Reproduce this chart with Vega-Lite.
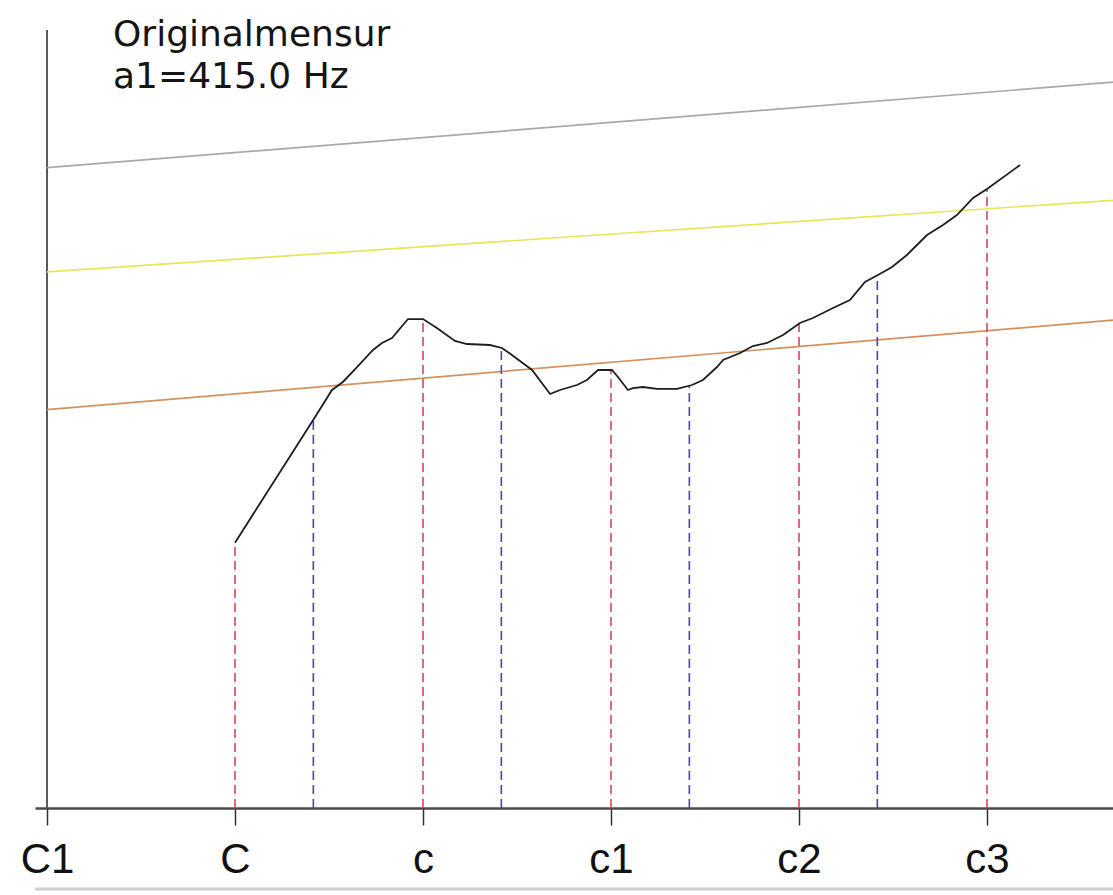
{
  "$schema": "https://vega.github.io/schema/vega-lite/v6.json",
  "autosize": {"type": "none"},
  "width": 1078,
  "height": 778,
  "padding": {"left": 35, "top": 30, "right": 0, "bottom": 87},
  "background": "white",
  "config": {"view": {"stroke": null}},
  "title": {
    "text": ["Originalmensur", "a1=415.0 Hz"],
    "anchor": "start",
    "frame": "group",
    "orient": "top",
    "dx": 78,
    "offset": -70,
    "font": "DejaVu Sans",
    "fontSize": 36,
    "fontWeight": "normal",
    "lineHeight": 42,
    "color": "#151515"
  },
  "datasets": {
    "curve": [
      {"x": 1.0, "y": 34.1},
      {"x": 1.426, "y": 50.26},
      {"x": 1.516, "y": 53.73},
      {"x": 1.574, "y": 54.76},
      {"x": 1.649, "y": 56.68},
      {"x": 1.734, "y": 58.87},
      {"x": 1.782, "y": 59.77},
      {"x": 1.835, "y": 60.41},
      {"x": 1.92, "y": 62.85},
      {"x": 2.0, "y": 62.85},
      {"x": 2.074, "y": 61.7},
      {"x": 2.17, "y": 60.03},
      {"x": 2.234, "y": 59.64},
      {"x": 2.356, "y": 59.51},
      {"x": 2.42, "y": 59.13},
      {"x": 2.473, "y": 58.23},
      {"x": 2.58, "y": 56.3},
      {"x": 2.676, "y": 53.21},
      {"x": 2.729, "y": 53.73},
      {"x": 2.819, "y": 54.37},
      {"x": 2.872, "y": 55.01},
      {"x": 2.931, "y": 56.3},
      {"x": 3.005, "y": 56.3},
      {"x": 3.037, "y": 55.4},
      {"x": 3.09, "y": 53.73},
      {"x": 3.117, "y": 53.98},
      {"x": 3.17, "y": 54.11},
      {"x": 3.245, "y": 53.86},
      {"x": 3.351, "y": 53.86},
      {"x": 3.431, "y": 54.37},
      {"x": 3.489, "y": 55.01},
      {"x": 3.564, "y": 56.68},
      {"x": 3.596, "y": 57.58},
      {"x": 3.686, "y": 58.48},
      {"x": 3.755, "y": 59.38},
      {"x": 3.83, "y": 59.77},
      {"x": 3.915, "y": 60.8},
      {"x": 4.005, "y": 62.34},
      {"x": 4.074, "y": 62.98},
      {"x": 4.181, "y": 64.27},
      {"x": 4.271, "y": 65.3},
      {"x": 4.351, "y": 67.61},
      {"x": 4.42, "y": 68.51},
      {"x": 4.495, "y": 69.54},
      {"x": 4.574, "y": 71.08},
      {"x": 4.681, "y": 73.65},
      {"x": 4.766, "y": 74.94},
      {"x": 4.84, "y": 76.22},
      {"x": 4.926, "y": 78.41},
      {"x": 5.0, "y": 79.56},
      {"x": 5.176, "y": 82.65}
    ],
    "refs": [
      {"line": "grey", "x": 0, "y": 82.3},
      {"line": "grey", "x": 5.67, "y": 93.3},
      {"line": "yellow", "x": 0, "y": 68.9},
      {"line": "yellow", "x": 5.67, "y": 78.1},
      {"line": "orange", "x": 0, "y": 51.2},
      {"line": "orange", "x": 5.67, "y": 62.7}
    ],
    "drops": [
      {"kind": "C", "x": 1.0, "y": 34.1, "base": 0},
      {"kind": "C", "x": 2.0, "y": 62.85, "base": 0},
      {"kind": "C", "x": 3.0, "y": 56.3, "base": 0},
      {"kind": "C", "x": 4.0, "y": 62.3, "base": 0},
      {"kind": "C", "x": 5.0, "y": 79.56, "base": 0},
      {"kind": "F", "x": 1.4167, "y": 50.1, "base": 0},
      {"kind": "F", "x": 2.4167, "y": 59.0, "base": 0},
      {"kind": "F", "x": 3.4167, "y": 54.2, "base": 0},
      {"kind": "F", "x": 4.4167, "y": 68.5, "base": 0}
    ],
    "axisY": [{"x": 0, "y": 0}, {"x": 0, "y": 100}],
    "frame": [{"y": -10.4}]
  },
  "layer": [
    {
      "data": {"name": "axisY"},
      "mark": {"type": "line", "color": "#5a5a5a", "strokeWidth": 2},
      "encoding": {
        "x": {
          "field": "x",
          "type": "quantitative",
          "scale": {"domain": [-0.0638, 5.6702], "nice": false, "zero": false},
          "axis": {
            "values": [0, 1, 2, 3, 4, 5],
            "labelExpr": "['C1','C','c','c1','c2','c3'][datum.value]",
            "title": null,
            "grid": false,
            "domainColor": "#4a4a4a",
            "domainWidth": 2.5,
            "tickColor": "#333333",
            "tickWidth": 1.5,
            "tickSize": 17,
            "labelFont": "Liberation Sans",
            "labelFontSize": 42,
            "labelColor": "#111111",
            "labelPadding": 14,
            "labelFlush": false,
            "labelOverlap": false
          }
        },
        "y": {
          "field": "y",
          "type": "quantitative",
          "scale": {"domain": [0, 100], "nice": false, "zero": false},
          "axis": null
        }
      }
    },
    {
      "data": {"name": "refs"},
      "mark": {"type": "line", "strokeWidth": 1.7},
      "encoding": {
        "x": {"field": "x", "type": "quantitative"},
        "y": {"field": "y", "type": "quantitative"},
        "color": {
          "field": "line",
          "type": "nominal",
          "scale": {"domain": ["grey", "yellow", "orange"], "range": ["#a9a9a9", "#e6e65a", "#d3915f"]},
          "legend": null
        }
      }
    },
    {
      "data": {"name": "drops"},
      "mark": {"type": "rule", "strokeWidth": 1.6, "strokeDash": [9, 5]},
      "encoding": {
        "x": {"field": "x", "type": "quantitative"},
        "y": {"field": "base", "type": "quantitative"},
        "y2": {"field": "y"},
        "stroke": {
          "field": "kind",
          "type": "nominal",
          "scale": {"domain": ["C", "F"], "range": ["#cf4a5a", "#4848a8"]},
          "legend": null
        }
      }
    },
    {
      "data": {"name": "curve"},
      "mark": {"type": "line", "color": "#1e1e1e", "strokeWidth": 1.8},
      "encoding": {
        "x": {"field": "x", "type": "quantitative"},
        "y": {"field": "y", "type": "quantitative"}
      }
    },
    {
      "data": {"name": "frame"},
      "mark": {"type": "rule", "color": "#cfcfcf", "strokeWidth": 3, "clip": false},
      "encoding": {
        "y": {"field": "y", "type": "quantitative"}
      }
    }
  ]
}
